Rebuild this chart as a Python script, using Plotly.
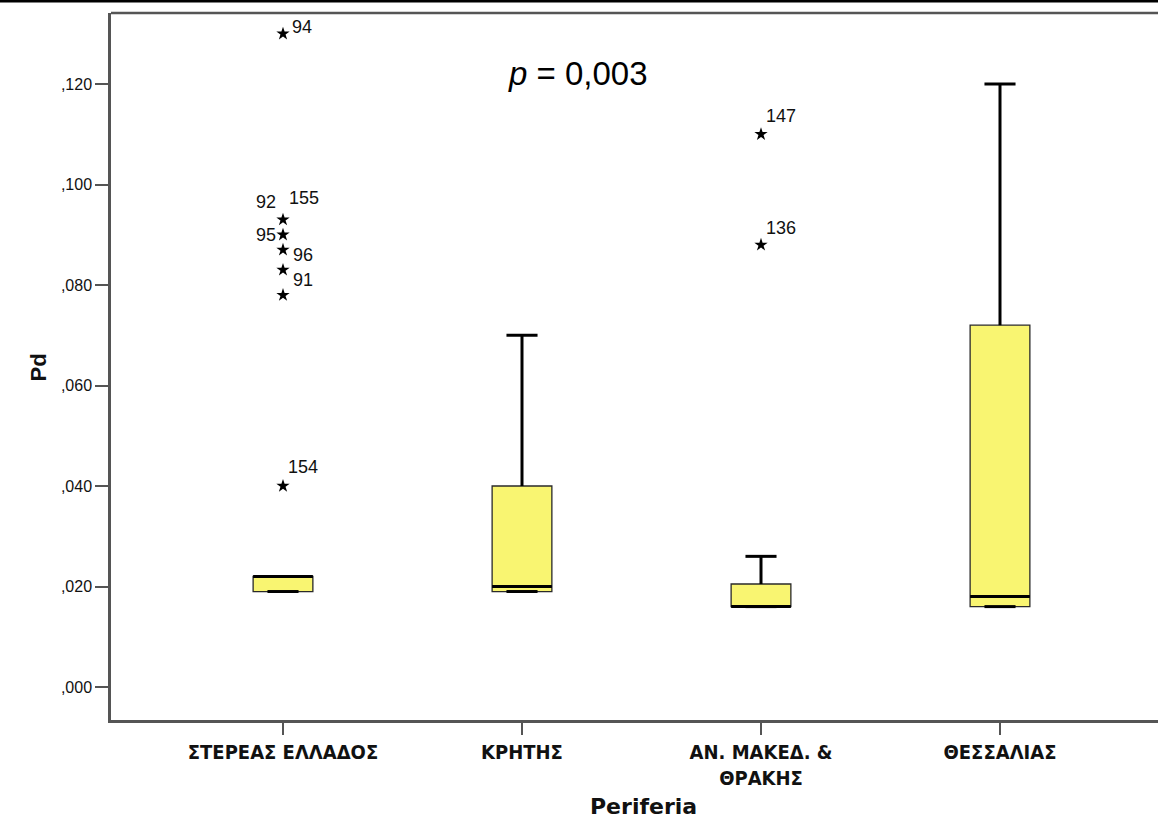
import plotly.graph_objects as go

# ---- data ----
categories = ["ΣΤΕΡΕΑΣ ΕΛΛΑΔΟΣ", "ΚΡΗΤΗΣ", "ΑΝ. ΜΑΚΕΔ. &<br>ΘΡΑΚΗΣ", "ΘΕΣΣΑΛΙΑΣ"]
q1 = [0.019, 0.019, 0.016, 0.016]
median = [0.022, 0.020, 0.016, 0.018]
q3 = [0.022, 0.040, 0.0205, 0.072]
lower_fence = [0.019, 0.019, 0.016, 0.016]
upper_fence = [0.022, 0.070, 0.026, 0.120]

# outliers: group index, value, case label
outlier_group = [0, 0, 0, 0, 0, 0, 0, 2, 2]
outlier_value = [0.130, 0.093, 0.090, 0.087, 0.083, 0.078, 0.040, 0.110, 0.088]
outlier_ids = ["94", "92|155", "95", "96", "91", "", "154", "147", "136"]

y_ticks = [0.0, 0.02, 0.04, 0.06, 0.08, 0.10, 0.12]
y_tick_text = [",000", ",020", ",040", ",060", ",080", ",100", ",120"]

# ---- style ----
BOX_FILL = "#F9F571"
BOX_LINE = "#2a2a2a"
AXIS_COLOR = "#555555"
FONT = "Liberation Sans, Arial, sans-serif"
NARROW = "Liberation Sans Narrow, Arial Narrow, DejaVu Sans Condensed, sans-serif"
BOX_W = 0.25
CAP_HALF = 0.065

fig = go.Figure()

xs = list(range(len(categories)))
for i in xs:
    fig.add_trace(go.Box(
        x=[i], q1=[q1[i]], median=[median[i]], q3=[q3[i]],
        lowerfence=[lower_fence[i]], upperfence=[upper_fence[i]],
        width=BOX_W, fillcolor=BOX_FILL,
        line=dict(color=BOX_LINE, width=1.3),
        whiskerwidth=0.5, boxpoints=False, showlegend=False, hoverinfo="skip",
    ))
    fig.add_trace(go.Scatter(
        x=[i - BOX_W / 2, i + BOX_W / 2], y=[median[i], median[i]],
        mode="lines", line=dict(color="black", width=3), showlegend=False, hoverinfo="skip"))
    if upper_fence[i] > q3[i]:
        fig.add_trace(go.Scatter(
            x=[i, i, None, i - CAP_HALF, i + CAP_HALF],
            y=[q3[i], upper_fence[i], None, upper_fence[i], upper_fence[i]],
            mode="lines", line=dict(color="black", width=3), showlegend=False, hoverinfo="skip"))
    fig.add_trace(go.Scatter(
        x=[i - CAP_HALF, i + CAP_HALF], y=[lower_fence[i], lower_fence[i]],
        mode="lines", line=dict(color="black", width=3), showlegend=False, hoverinfo="skip"))

fig.add_trace(go.Scatter(
    x=outlier_group, y=outlier_value, mode="markers",
    marker=dict(symbol="star", size=10, color="black"),
    showlegend=False, hoverinfo="skip"))

label_specs = {
    "94": [("94", "left", 7, 7)],
    "92|155": [("92", "right", -5, 18), ("155", "left", 4, 22)],
    "95": [("95", "right", -5, 0)],
    "96": [("96", "left", 8, -5)],
    "91": [("91", "left", 8, -10)],
    "154": [("154", "left", 3, 19)],
    "147": [("147", "left", 3, 18)],
    "136": [("136", "left", 3, 17)],
}
for g, v, lab in zip(outlier_group, outlier_value, outlier_ids):
    for text, anchor, dx, dy in label_specs.get(lab, []):
        fig.add_annotation(x=g, y=v, text=text, showarrow=False,
                           xanchor=anchor, yanchor="middle", xshift=dx, yshift=dy,
                           font=dict(family=FONT, size=18, color="#111"))

PW = 1158 - 111
PH = 720 - 13
fig.add_annotation(xref="paper", yref="paper", x=(578 - 111) / PW,
                   y=1 - (74 - 13) / PH, yanchor="middle",
                   text="<i>p</i> = 0,003", showarrow=False,
                   font=dict(family=FONT, size=33, color="black"))

fig.add_annotation(xref="paper", yref="paper", x=(643 - 111) / PW,
                   y=-(807 - 720) / PH, text="<b>Periferia</b>", showarrow=False,
                   yanchor="middle", font=dict(family="DejaVu Sans, sans-serif", size=22, color="#111"))
fig.add_annotation(xref="paper", yref="paper", x=-(111 - 23) / PW, y=1 - (368 - 13) / PH,
                   text="<b>Pd</b>", showarrow=False, textangle=-90,
                   font=dict(family=FONT, size=22, color="#111"))

fig.add_shape(type="line", xref="paper", yref="paper", x0=0, x1=1, y0=1, y1=1,
              line=dict(color=AXIS_COLOR, width=2.5))
fig.add_shape(type="line", xref="paper", yref="paper", x0=-0.2, x1=1.01,
              y0=1 + 12 / PH, y1=1 + 12 / PH, line=dict(color="black", width=3))

x_left = -172 / 239
x_right = 3 + 158 / 239
y_bottom = -33 / 5025
y_top = (687 - 13) / 5025

fig.update_layout(
    width=1158, height=821, autosize=False,
    margin=dict(l=111, r=0, t=13, b=101),
    paper_bgcolor="white", plot_bgcolor="white",
    xaxis=dict(range=[x_left, x_right], tickvals=xs, ticktext=categories,
               showgrid=False, zeroline=False, showline=True, linecolor=AXIS_COLOR, linewidth=2.5,
               ticks="outside", ticklen=12, tickwidth=1.5, tickcolor=AXIS_COLOR,
               tickfont=dict(family=NARROW, size=20, color="#111", weight="bold")),
    yaxis=dict(range=[y_bottom, y_top], tickvals=y_ticks, ticktext=y_tick_text,
               showgrid=False, zeroline=False, showline=True, linecolor=AXIS_COLOR, linewidth=2.5,
               ticks="outside", ticklen=13, tickwidth=1.5, tickcolor=AXIS_COLOR,
               tickfont=dict(family=FONT, size=16, color="#111")),
)

fig.write_html("out.html", config={"displayModeBar": False},
               post_script="document.body.style.margin='0px';document.body.style.overflow='hidden';")
